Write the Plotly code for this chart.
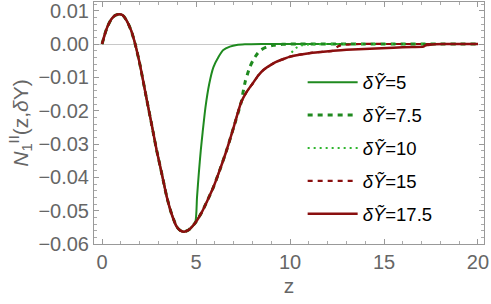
import plotly.graph_objects as go

# shared curve
base_z = [0.0, 0.15, 0.3, 0.5, 0.7, 0.92, 1.1, 1.3, 1.55, 1.76, 2.0, 2.38, 2.65, 2.9, 3.2, 3.44, 3.7,
          3.97, 4.15, 4.36, 4.6, 4.95, 5.3, 5.6, 5.92, 6.25, 6.63, 7.0, 7.4, 7.7, 8.03, 8.3, 8.58,
          9.0, 9.29, 9.7, 10.0, 10.5, 11.2, 12.3, 13.0, 14.25, 15.5, 16.5, 17.1]
base_y = [0.0, 0.0030, 0.0054, 0.0075, 0.0086, 0.0089, 0.0086, 0.0071, 0.0040, 0.0, -0.0058, -0.0168,
          -0.0245, -0.0318, -0.0395, -0.0458, -0.0510, -0.0548, -0.0559, -0.0563, -0.0558, -0.0537,
          -0.0505, -0.0470, -0.0430, -0.0380, -0.0318, -0.0250, -0.0175, -0.0143, -0.0117, -0.0095,
          -0.0078, -0.0062, -0.0053, -0.0044, -0.0038, -0.0032, -0.0026, -0.0020, -0.0017, -0.0014,
          -0.0011, -0.0009, -0.0008]

cut_z = [4.95, 7.4, 10.0, 12.3, 17.1]
tail_z = [
    [5.05, 5.15, 5.25, 5.35, 5.5, 5.7, 5.92, 6.2, 6.45, 6.8, 7.16, 7.6, 8.5, 12.0, 16.0, 20.0],
    [7.5, 7.62, 7.75, 7.87, 8.05, 8.25, 8.45, 8.75, 9.1, 9.6, 10.5, 14.0, 20.0],
    [10.08, 10.2, 10.32, 10.45, 10.65, 10.9, 11.3, 12.0, 16.0, 20.0],
    [12.38, 12.5, 12.65, 12.85, 13.2, 13.8, 16.0, 20.0],
    [17.18, 17.3, 17.45, 17.7, 18.2, 20.0],
]
tail_y = [
    [-0.0460, -0.0385, -0.0320, -0.0265, -0.0190, -0.0120, -0.0070, -0.0038, -0.0018, -0.0008,
     -0.0003, -0.0001, 0.0, 0.0, 0.0, 0.0],
    [-0.0145, -0.0112, -0.0088, -0.0068, -0.0047, -0.0030, -0.0018, -0.0009, -0.0004, -0.0001,
     0.0, 0.0, 0.0],
    [-0.0026, -0.0018, -0.0012, -0.0008, -0.0004, -0.0002, -0.0001, 0.0, 0.0, 0.0],
    [-0.0014, -0.0009, -0.0005, -0.0003, -0.0001, 0.0, 0.0, 0.0],
    [-0.0005, -0.0003, -0.0002, -0.0001, 0.0, 0.0],
]
labels = ["5", "7.5", "10", "15", "17.5"]
colors = ["#1f8a1f", "#1f8a1f", "#2fb52f", "#8a0f0f", "#8a0f0f"]
dashes = ["solid", "5px,5px", "2px,4px", "5px,5px", "solid"]
widths = [2.0, 3.0, 2.0, 2.2, 2.5]

fig = go.Figure()
for i, lab in enumerate(labels):
    zs = [z for z in base_z if z <= cut_z[i]] + tail_z[i]
    ys = [y for z, y in zip(base_z, base_y) if z <= cut_z[i]] + tail_y[i]
    fig.add_trace(go.Scatter(
        x=zs, y=ys, mode="lines", line_shape="spline",
        line=dict(color=colors[i], width=widths[i], dash=dashes[i], smoothing=0.6),
        name="<i>δỸ</i>=" + lab, legendgroup=str(i)))

font = "Liberation Sans, Arial, sans-serif"
fig.update_layout(
    width=491, height=304,
    margin=dict(l=94, r=7, t=2, b=60, autoexpand=False),
    plot_bgcolor="white", paper_bgcolor="white",
    font=dict(family=font, size=20, color="#666666"),
    showlegend=True,
    legend=dict(x=0.535, y=0.745, xanchor="left", yanchor="top",
                bgcolor="rgba(0,0,0,0)", font=dict(size=18.5, color="black"),
                itemwidth=50, tracegroupgap=5.8),
    xaxis=dict(range=[-0.43, 20.32], tickvals=[0, 5, 10, 15, 20], showline=True, mirror="ticks",
               linecolor="#999999", linewidth=1, ticks="inside", ticklen=5, tickcolor="#999999",
               showgrid=False, zeroline=False, automargin=False, ticklabeloverflow="allow",
               minor=dict(dtick=1, ticks="inside", ticklen=3, tickcolor="#aaaaaa", showgrid=False),
               title=dict(text="z", font=dict(size=21, color="#666666"), standoff=6),
               tickfont=dict(size=20, color="#666666")),
    yaxis=dict(range=[-0.06, 0.0126], tickvals=[0.01, 0.0, -0.01, -0.02, -0.03, -0.04, -0.05, -0.06],
               ticktext=["0.01", "0.00", "−0.01", "−0.02", "−0.03", "−0.04", "−0.05", "−0.06"],
               showline=True, mirror="ticks", linecolor="#999999", linewidth=1, ticks="inside",
               ticklen=5, tickcolor="#999999", showgrid=False, automargin=False,
               ticklabeloverflow="allow",
               zeroline=True, zerolinecolor="#c8c8c8", zerolinewidth=1,
               minor=dict(dtick=0.002, ticks="inside", ticklen=3, tickcolor="#aaaaaa", showgrid=False),
               title=dict(text="<i>N</i><sub>1</sub><sup>II</sup>(z,<i>δ</i>Y)",
                          font=dict(size=21, color="#666666"), standoff=4),
               tickfont=dict(size=20, color="#666666")),
)
fig.write_html("out.html", config={"displayModeBar": False},
               post_script="document.body.style.margin='0px';")
